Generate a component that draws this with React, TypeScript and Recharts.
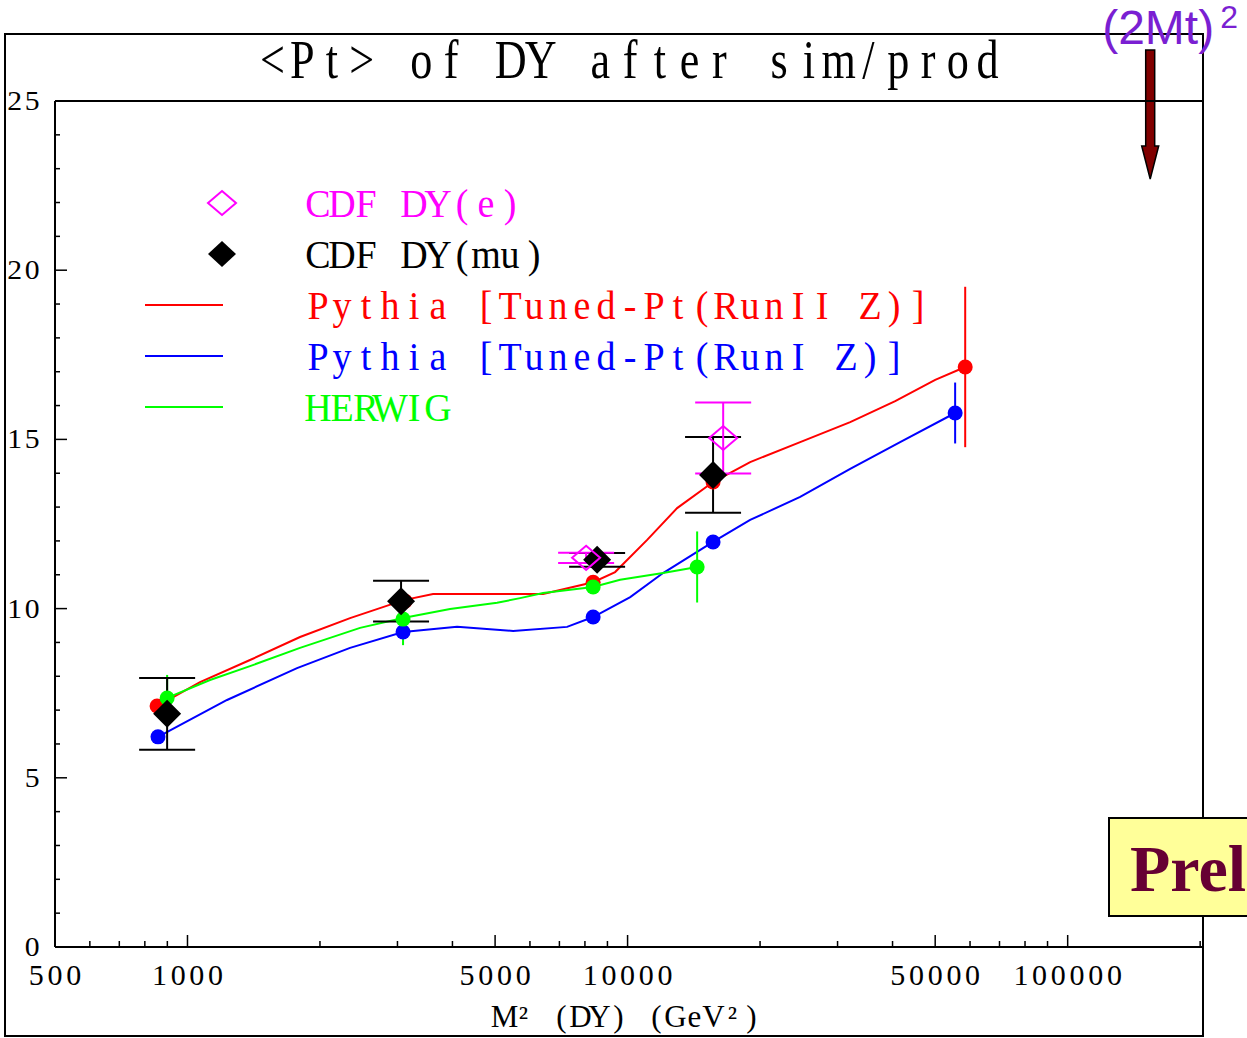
import React from 'react';
import {
  ComposedChart,
  Line,
  Scatter,
  XAxis,
  YAxis,
  ErrorBar,
  ReferenceLine,
} from 'recharts';

// x: M² of the Drell-Yan pair (GeV²), y: mean Pt (GeV), optional third entry: error
const PYTHIA_RUN2_CURVE = [
  [853, 7.12], [1068, 7.83], [1387, 8.48], [1802, 9.16], [2341, 9.72],
  [3100, 10.25], [3614, 10.43], [6426, 10.43], [8351, 10.78], [9369, 11.08],
  [11080, 12.03], [12960, 12.97], [15640, 13.74], [18990, 14.33], [24670, 14.92],
  [32050, 15.51], [40560, 16.13], [50000, 16.76], [58500, 17.14],
];
const PYTHIA_RUN1_CURVE = [
  [857, 6.21], [1230, 7.3], [1774, 8.24], [2341, 8.84], [3089, 9.31],
  [4098, 9.46], [5494, 9.34], [7287, 9.46], [8351, 9.75], [10140, 10.34],
  [12040, 11.05], [15640, 11.97], [18990, 12.62], [24670, 13.3], [32050, 14.13],
  [41620, 14.92], [55500, 15.78],
];
const HERWIG_CURVE = [
  [899, 7.36], [1125, 7.89], [1387, 8.3], [1802, 8.84], [2467, 9.43],
  [3089, 9.72], [3950, 9.99], [5052, 10.17], [5700, 10.31], [6426, 10.46],
  [8351, 10.64], [9618, 10.85], [12040, 11.05], [14390, 11.23],
];

const PYTHIA_RUN2_POINTS = [
  [853, 7.12, 0], [3122, 10.22, 0], [8351, 10.78, 0], [15640, 13.74, 0], [58500, 17.14, 2.37],
];
const PYTHIA_RUN1_POINTS = [
  [857, 6.21, 0], [3089, 9.31, 0], [8351, 9.75, 0], [15640, 11.97, 0], [55500, 15.78, 0.9],
];
const HERWIG_POINTS = [
  [899, 7.36, 0.68], [3089, 9.69, 0.77], [8351, 10.64, 0], [14390, 11.23, 1.05],
];
const CDF_MU = [
  [899, 6.89, 1.06], [3057, 10.22, 0.6], [8527, 11.44, 0.2], [15640, 13.95, 1.12],
];
const CDF_E = [
  [8050, 11.5, 0.15], [16490, 15.04, 1.05],
];

const X_DOMAIN = [500, 203000];
const X_TICKS = [
  500, 600, 700, 800, 900, 1000, 2000, 3000, 4000, 5000, 6000, 7000, 8000, 9000,
  10000, 20000, 30000, 40000, 50000, 60000, 70000, 80000, 90000, 100000, 200000,
];
const X_LABELS = [500, 1000, 5000, 10000, 50000, 100000];
const Y_TICKS = Array.from({ length: 26 }, (_, i) => i);
const Y_LABELS = [0, 5, 10, 15, 20, 25];

// (2Mt)² marker position on the M² axis
const TOP_PAIR_M2 = 154000;

const RED = '#ff0000';
const BLUE = '#0000ff';
const GREEN = '#00ff00';
const MAGENTA = '#ff00ff';
const SERIF = '"Liberation Serif", "DejaVu Serif", serif';

const toPoints = (rows: number[][]) =>
  rows.map(([m2, pt, err = 0]) => ({ m2, pt, err }));

const isMajorX = (v: number) => X_LABELS.includes(v) && v !== 500;

// fixed-pitch serif text: every glyph centred in a cell of equal width
function PitchText({
  x, y, text, pitch, size, sx = 1, sy = 1, fill = '#000', anchor = 'start',
}: any) {
  const chars = Array.from(String(text));
  const len = chars.length * pitch;
  const left = anchor === 'middle' ? x - len / 2 : anchor === 'end' ? x - len : x;
  const xs = chars.map((_, i) => ((left + (i + 0.5) * pitch) / sx).toFixed(2)).join(' ');
  return (
    <text
      transform={`scale(${sx},${sy})`}
      x={xs}
      y={y / sy}
      textAnchor="middle"
      fontFamily={SERIF}
      fontSize={size}
      fill={fill}
    >
      {text}
    </text>
  );
}

function BottomTick({ x, y, payload }: any) {
  const v = payload.value;
  const len = isMajorX(v) ? 12 : 6;
  return (
    <g>
      <line x1={x} x2={x} y1={y} y2={y - len} stroke="#000" strokeWidth={1.5} />
      {X_LABELS.includes(v) && (
        <PitchText x={x} y={y + 38} text={v} pitch={18.7} size={30} sx={1} anchor="middle" />
      )}
    </g>
  );
}

function TopTick({ x, y, payload }: any) {
  const len = isMajorX(payload.value) ? 12 : 6;
  return <line x1={x} x2={x} y1={y} y2={y + len} stroke="#000" strokeWidth={1.5} />;
}

function LeftTick({ x, y, payload }: any) {
  const v = payload.value;
  const len = v % 5 === 0 ? 12 : 5;
  return (
    <g>
      <line x1={x} x2={x + len} y1={y} y2={y} stroke="#000" strokeWidth={1.5} />
      {Y_LABELS.includes(v) && (
        <PitchText x={x - 14} y={y + 9} text={v} pitch={17.5} size={27} sx={1.1} anchor="end" />
      )}
    </g>
  );
}

function RightTick({ x, y, payload }: any) {
  const len = payload.value % 5 === 0 ? 12 : 5;
  return <line x1={x} x2={x - len} y1={y} y2={y} stroke="#000" strokeWidth={1.5} />;
}

const dot = (color: string) => (p: any) =>
  <circle cx={p.cx} cy={p.cy} r={7.5} fill={color} />;

const filledDiamond = (p: any) => (
  <polygon
    points={`${p.cx},${p.cy - 14} ${p.cx + 14},${p.cy} ${p.cx},${p.cy + 14} ${p.cx - 14},${p.cy}`}
    fill="#000"
  />
);

const openDiamond = (p: any) => (
  <polygon
    points={`${p.cx},${p.cy - 12} ${p.cx + 14},${p.cy} ${p.cx},${p.cy + 12} ${p.cx - 14},${p.cy}`}
    fill="none"
    stroke={MAGENTA}
    strokeWidth={2}
  />
);

function TopMassArrow(props: any) {
  const x = props.x1;
  const top = Math.min(props.y1, props.y2);
  const pts = [
    [x - 4.5, top - 51], [x + 4.5, top - 51], [x + 4.5, top + 45], [x + 8.5, top + 45],
    [x, top + 78], [x - 8.5, top + 45], [x - 4.5, top + 45],
  ].map((p) => p.join(',')).join(' ');
  return (
    <g>
      <polygon points={pts} fill="#800000" stroke="#000" strokeWidth={1.5} />
      <text
        x={x - 48}
        y={top - 57}
        fill="#7a1fd2"
        fontFamily='"Liberation Sans", Arial, sans-serif'
        fontSize={48}
      >
        (2Mt)
        <tspan dx={6} dy={-16} fontSize={32}>2</tspan>
      </text>
    </g>
  );
}

const LEGEND = [
  { label: 'CDF DY(e)', color: MAGENTA, kind: 'open' },
  { label: 'CDF DY(mu)', color: '#000', kind: 'filled' },
  { label: 'Pythia [Tuned-Pt(RunII Z)]', color: RED, kind: 'line' },
  { label: 'Pythia [Tuned-Pt(RunI Z)]', color: BLUE, kind: 'line' },
  { label: 'HERWIG', color: GREEN, kind: 'line' },
];

export default function App() {
  const W = 1247;
  const H = 1038;
  return (
    <div style={{ position: 'absolute', left: 0, top: 0, width: W, height: H, overflow: 'hidden', background: '#fff' }}>
      {/* frame, title and axis caption */}
      <svg width={W} height={H} style={{ position: 'absolute', left: 0, top: 0 }}>
        <rect x={5} y={34} width={1198} height={1002} fill="none" stroke="#000" strokeWidth={2} />
        <PitchText x={630} y={78} text="<Pt> of DY after sim/prod" pitch={29.8} size={48} sx={0.92} sy={1.15} anchor="middle" />
        <PitchText x={628} y={1027} text="M² (DY) (GeV²)" pitch={19} size={31} sx={1} anchor="middle" />
      </svg>

      <div style={{ position: 'absolute', left: 0, top: 0 }}>
        <ComposedChart width={W} height={H} margin={{ top: 100, right: 43, bottom: 90, left: 54 }}>
          <XAxis
            dataKey="m2"
            type="number"
            scale="log"
            domain={X_DOMAIN}
            allowDataOverflow
            ticks={X_TICKS}
            interval={0}
            height={1}
            tickSize={0}
            tickMargin={0}
            tick={<BottomTick />}
            axisLine={{ stroke: '#000', strokeWidth: 2 }}
          />
          <XAxis
            xAxisId="top"
            orientation="top"
            type="number"
            scale="log"
            domain={X_DOMAIN}
            allowDataOverflow
            ticks={X_TICKS}
            interval={0}
            height={1}
            tickSize={0}
            tickMargin={0}
            tick={<TopTick />}
            axisLine={{ stroke: '#000', strokeWidth: 2 }}
          />
          <YAxis
            dataKey="pt"
            type="number"
            domain={[0, 25]}
            allowDataOverflow
            ticks={Y_TICKS}
            interval={0}
            width={1}
            tickSize={0}
            tickMargin={0}
            tick={<LeftTick />}
            axisLine={{ stroke: '#000', strokeWidth: 2 }}
          />
          <YAxis
            yAxisId="right"
            orientation="right"
            type="number"
            domain={[0, 25]}
            ticks={Y_TICKS}
            interval={0}
            width={1}
            tickSize={0}
            tickMargin={0}
            tick={<RightTick />}
            axisLine={{ stroke: '#000', strokeWidth: 2 }}
          />

          <Line data={toPoints(PYTHIA_RUN2_CURVE)} dataKey="pt" stroke={RED} strokeWidth={2} dot={false} isAnimationActive={false} />
          <Line data={toPoints(PYTHIA_RUN1_CURVE)} dataKey="pt" stroke={BLUE} strokeWidth={2} dot={false} isAnimationActive={false} />
          <Line data={toPoints(HERWIG_CURVE)} dataKey="pt" stroke={GREEN} strokeWidth={2} dot={false} isAnimationActive={false} />

          <Scatter data={toPoints(PYTHIA_RUN2_POINTS)} shape={dot(RED)} isAnimationActive={false}>
            <ErrorBar dataKey="err" direction="y" width={0} stroke={RED} strokeWidth={2} />
          </Scatter>
          <Scatter data={toPoints(PYTHIA_RUN1_POINTS)} shape={dot(BLUE)} isAnimationActive={false}>
            <ErrorBar dataKey="err" direction="y" width={0} stroke={BLUE} strokeWidth={2} />
          </Scatter>
          <Scatter data={toPoints(HERWIG_POINTS)} shape={dot(GREEN)} isAnimationActive={false}>
            <ErrorBar dataKey="err" direction="y" width={0} stroke={GREEN} strokeWidth={2} />
          </Scatter>
          <Scatter data={toPoints(CDF_MU)} shape={filledDiamond} isAnimationActive={false}>
            <ErrorBar dataKey="err" direction="y" width={28} stroke="#000" strokeWidth={2} />
          </Scatter>
          <Scatter data={toPoints(CDF_E)} shape={openDiamond} isAnimationActive={false}>
            <ErrorBar dataKey="err" direction="y" width={28} stroke={MAGENTA} strokeWidth={2} />
          </Scatter>

          <ReferenceLine x={TOP_PAIR_M2} ifOverflow="visible" shape={<TopMassArrow />} />
        </ComposedChart>
      </div>

      {/* legend and stamp */}
      <svg width={W} height={H} style={{ position: 'absolute', left: 0, top: 0, pointerEvents: 'none' }}>
        {LEGEND.map((item, i) => {
          const cy = 203 + i * 51;
          return (
            <g key={item.label}>
              {item.kind === 'open' && (
                <polygon
                  points={`222,${cy - 12} 236,${cy} 222,${cy + 12} 208,${cy}`}
                  fill="none"
                  stroke={item.color}
                  strokeWidth={2}
                />
              )}
              {item.kind === 'filled' && (
                <polygon points={`222,${cy - 13} 236,${cy} 222,${cy + 13} 208,${cy}`} fill={item.color} />
              )}
              {item.kind === 'line' && (
                <line x1={145} x2={223} y1={cy} y2={cy} stroke={item.color} strokeWidth={2} />
              )}
              <PitchText x={306} y={cy + 14} text={item.label} pitch={24} size={40} sx={0.95} fill={item.color} />
            </g>
          );
        })}
        <rect x={1109} y={818} width={300} height={98} fill="#ffff99" stroke="#000" strokeWidth={2} />
        <text
          x={1130}
          y={891}
          fontFamily='"Liberation Serif", "Times New Roman", serif'
          fontWeight="bold"
          fontSize={66}
          fill="#660033"
        >
          Preliminary
        </text>
      </svg>
    </div>
  );
}
